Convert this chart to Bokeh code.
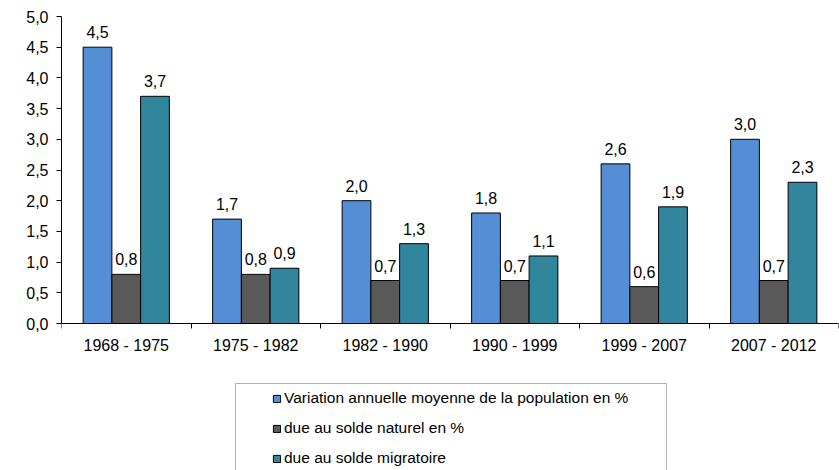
from bokeh.plotting import figure
from bokeh.models import (Range1d, FixedTicker, CustomJSTickFormatter, ColumnDataSource,
                          Legend, LegendItem, BoxAnnotation)
from bokeh.embed import file_html
from bokeh.resources import INLINE
from bokeh.core.properties import value

categories = ["1968 - 1975", "1975 - 1982", "1982 - 1990", "1990 - 1999", "1999 - 2007", "2007 - 2012"]
variation = [4.5, 1.7, 2.0, 1.8, 2.6, 3.0]
naturel = [0.8, 0.8, 0.7, 0.7, 0.6, 0.7]
migratoire = [3.7, 0.9, 1.3, 1.1, 1.9, 2.3]
series_names = ["Variation annuelle moyenne de la population en %",
                "due au solde naturel en %",
                "due au solde migratoire"]
colors = ["#558ED5", "#595959", "#31859C"]
y_ticks = [0.0, 0.5, 1.0, 1.5, 2.0, 2.5, 3.0, 3.5, 4.0, 4.5, 5.0]

FONT = "Liberation Sans"
W, H = 839, 470
TOP = 16
PLOT_H = 307          # pixels between 0 and 5 on the y axis
YMAX = 5.0
px_per_unit = PLOT_H / YMAX
ymin = YMAX - (H - TOP) / px_per_unit   # frame extends down to hold the legend

p = figure(width=W, height=H, x_range=Range1d(0, len(categories)), y_range=Range1d(ymin, YMAX),
           output_backend="svg", toolbar_location=None,
           min_border_left=61, min_border_right=1, min_border_top=TOP,
           min_border_bottom=0)
p.outline_line_color = None
p.xgrid.visible = False
p.ygrid.visible = False
p.background_fill_color = "white"
p.border_fill_color = "white"

bar_w = 0.222
offsets = [-bar_w, 0.0, bar_w]
renderers = []
for vals, off, col in zip([variation, naturel, migratoire], offsets, colors):
    src = ColumnDataSource(dict(
        x=[i + 0.5 + off for i in range(len(categories))],
        top=vals,
        lab=[f"{v:.1f}".replace(".", ",") for v in vals],
    ))
    r = p.vbar(x="x", top="top", bottom=0, width=bar_w, source=src,
               fill_color=col, line_color="black", line_width=1)
    renderers.append(r)
    p.text(x="x", y="top", text="lab", source=src, text_align="center",
           text_baseline="alphabetic", y_offset=-15,
           text_font=value(FONT), text_font_size="16px", text_color="black")

# y axis
yax = p.yaxis[0]
yax.ticker = FixedTicker(ticks=y_ticks)
yax.bounds = (0, YMAX)
yax.formatter = CustomJSTickFormatter(code="return tick.toFixed(1).replace('.', ',');")
yax.major_tick_in = 0
yax.major_tick_out = 5
yax.minor_tick_line_color = None
yax.axis_line_color = "black"
yax.major_tick_line_color = "black"
yax.major_label_text_font = FONT
yax.major_label_text_font_size = "16px"
yax.major_label_text_color = "black"
yax.major_label_standoff = 8

# x axis, drawn at y = 0
xax = p.xaxis[0]
xax.fixed_location = 0
xax.ticker = FixedTicker(ticks=[i + 0.5 for i in range(len(categories))],
                         minor_ticks=list(range(len(categories) + 1)))
xax.major_label_overrides = {i + 0.5: c for i, c in enumerate(categories)}
xax.major_tick_line_color = None
xax.major_tick_in = 0
xax.major_tick_out = 5
xax.minor_tick_in = 0
xax.minor_tick_out = 5
xax.minor_tick_line_color = "black"
xax.axis_line_color = "black"
xax.major_label_text_font = FONT
xax.major_label_text_font_size = "16px"
xax.major_label_text_color = "black"
xax.major_label_standoff = 8

# legend
legend = Legend(items=[LegendItem(label=n, renderers=[r]) for n, r in zip(series_names, renderers)],
                location=(211, 2), orientation="vertical",
                border_line_color=None, background_fill_alpha=0,
                padding=4, spacing=10, label_height=20, margin=0,
                glyph_width=9, glyph_height=9, label_standoff=3,
                label_text_font=FONT, label_text_font_size="15.5px", label_text_color="black")
p.add_layout(legend, "center")

box = BoxAnnotation(left=235, right=666, top=383, bottom=480,
                    left_units="canvas", right_units="canvas",
                    top_units="canvas", bottom_units="canvas",
                    fill_color=None, fill_alpha=0, line_color="black", line_width=1)
p.add_layout(box)

open("out.html", "w").write(file_html(p, INLINE))
